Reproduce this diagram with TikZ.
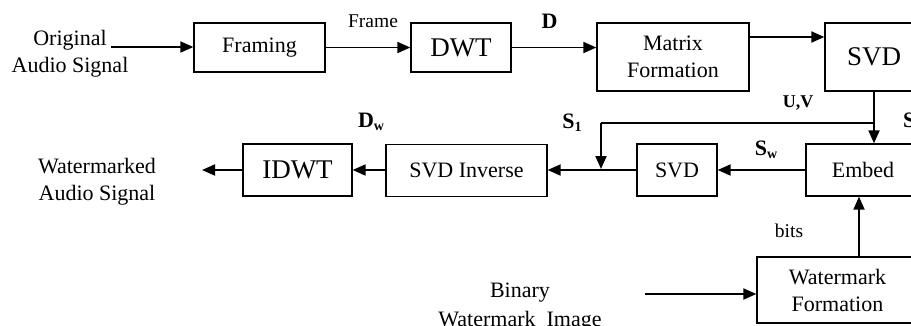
\documentclass[tikz,border=0pt]{standalone}
\usepackage{fontspec}
\setmainfont{Liberation Serif}
\usetikzlibrary{arrows.meta}
\newcommand{\subl}[1]{\raisebox{-0.3ex}{\fontsize{14}{14}\selectfont\bfseries #1}}
\tikzset{
  blk/.style={draw, line width=1.3pt, inner sep=0pt, font=\fontsize{22}{27}\selectfont, align=center},
  bigblk/.style={blk, font=\fontsize{27}{30}\selectfont},
  arr/.style={line width=1.9pt, -{Triangle[length=13pt,width=11pt]}},
  txt/.style={inner sep=0pt, font=\fontsize{22}{27}\selectfont, align=center},
  lbl/.style={inner sep=0pt, anchor=base, font=\fontsize{19.5}{22}\selectfont},
  blbl/.style={inner sep=0pt, anchor=base, font=\fontsize{22}{24}\selectfont\bfseries},
}
\begin{document}
\begin{tikzpicture}[x=1pt,y=-1pt]
\useasboundingbox (0,0) rectangle (911,325);
\clip (0,0) rectangle (911,325);
% blocks
\node[blk, minimum width=131pt, minimum height=49pt] (framing) at (259.5,47.5) {Framing};
\node[bigblk, minimum width=100pt, minimum height=49pt] (dwt) at (461,47.5) {DWT};
\node[blk, minimum width=152pt, minimum height=68pt] (matrix) at (673,57) {Matrix\\Formation};
\node[bigblk, minimum width=98pt, minimum height=68pt] (svdtop) at (874,57) {SVD};
\node[blk, minimum width=114pt, minimum height=52pt] (embed) at (863,170) {Embed};
\node[blk, minimum width=80pt, minimum height=52pt] (svdlow) at (677,170) {SVD};
\node[blk, minimum width=161pt, minimum height=52pt] (svdinv) at (466.5,170.5) {SVD Inverse};
\node[bigblk, minimum width=109pt, minimum height=52pt] (idwt) at (297.5,170) {IDWT};
\node[blk, minimum width=161pt, minimum height=66pt] (wmf) at (837.5,290) {Watermark\\Formation};
% free texts
\node[txt] (orig) at (70,53.5) {Original\\Audio Signal};
\node[txt] (wout) at (97,182) {Watermarked\\Audio Signal};
\node[txt, font=\fontsize{22}{29}\selectfont] (bin) at (520,307) {Binary\\Watermark\ \ Image};
% labels
\node[lbl] (lframe) at (373,27) {Frame};
\node[lbl] (lbits) at (789,237) {bits};
\node[blbl] (lD) at (549.5,28) {D};
\node[blbl] (lDw) at (371,127) {D\subl{w}};
\node[blbl] (lS1) at (572,128) {S\subl{1}};
\node[blbl] (lSw) at (766,155) {S\subl{w}};
\node[blbl, font=\fontsize{18}{20}\selectfont\bfseries] (lUV) at (798,107) {U,V};
\node[blbl, anchor=base west] (lS) at (903,127) {S};
% coordinates
\coordinate (inA) at (111,47);
\coordinate (outA) at (202,170);
\coordinate (binA) at (645,294);
\coordinate (tap) at (svdtop.south |- 0,123);
\coordinate (jn) at (601,169);
\coordinate (bitsA) at (859,0);
% connectors
\draw[arr] (inA) -- (framing.west |- inA);
\draw[arr] (framing.east) -- (dwt.west);
\draw[arr] (dwt.east) -- (matrix.west |- dwt.east);
\draw[arr] (matrix.east |- 0,37) -- (svdtop.west |- 0,37);
\draw[arr] (svdtop.south) -- (svdtop.south |- embed.north);
\draw[line width=1.9pt] (tap) -- (jn |- tap);
\draw[arr] (jn |- tap) -- (jn);
\draw[arr] (embed.west) -- (svdlow.east);
\draw[arr] (svdlow.west) -- (svdinv.east |- svdlow.west);
\draw[arr] (svdinv.west |- svdlow.west) -- (idwt.east);
\draw[arr] (idwt.west) -- (outA);
\draw[arr] (bitsA |- wmf.north) -- (bitsA |- embed.south);
\draw[arr] (binA) -- (wmf.west |- binA);
\end{tikzpicture}
\end{document}
